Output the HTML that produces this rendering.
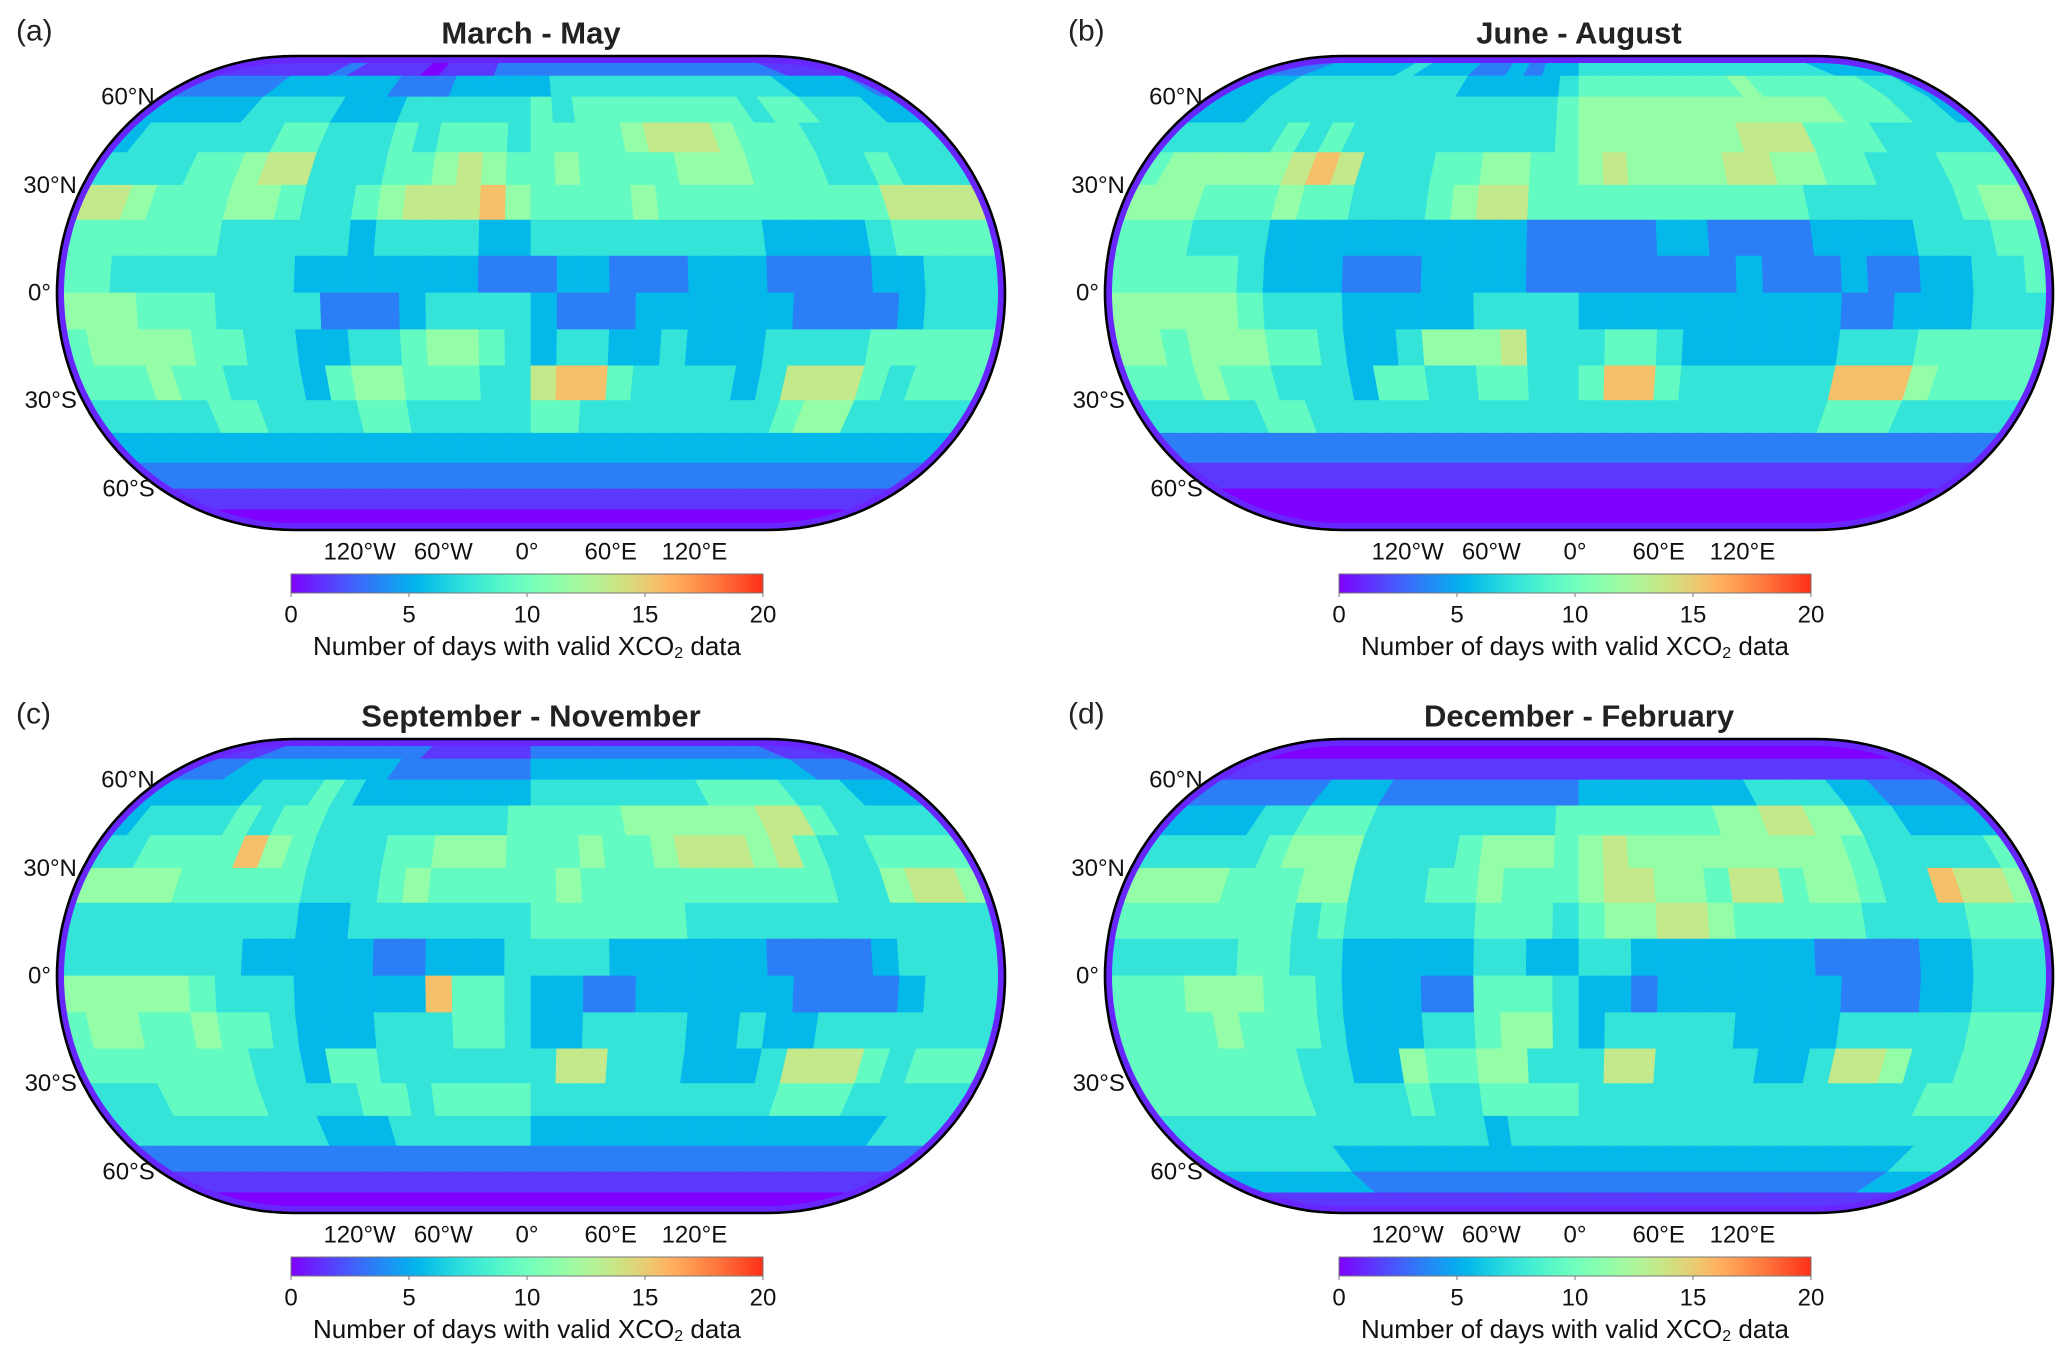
<!DOCTYPE html>
<html><head><meta charset="utf-8"><title>XCO2 valid days seasonal maps</title>
<style>
html,body{margin:0;padding:0;background:#fff;}
svg{display:block;font-family:"Liberation Sans",Arial,sans-serif;}
</style></head>
<body>
<svg id="fig" width="2067" height="1360" viewBox="0 0 2067 1360" xmlns="http://www.w3.org/2000/svg"></svg>
<script>
// ---- data: rows lat 90N..90S in 10° bands, columns lon -180..180 in 10° steps; each char = level (days ≈ 2*level-0.5)
const seasonTitles = ["March - May","June - August","September - November","December - February"];
const panelLetters = ["(a)","(b)","(c)","(d)"];
const gridMAM = [
"000000000000000000000000000000000000",
"111111121111011122222222222222221111",
"222223333332223333344444444444433332",
"333334444333444444545555555545544433",
"344444455444545554555567776555444444",
"444455677444556765565555666555445444",
"776555665445677786555565555555557777",
"555555444443444433444444444333345555",
"554444444333333322233222333222233444",
"666555444422234444322233333322223444",
"566665544334456654344334333444455555",
"555655444356655544788544443477754555",
"444445544445544444554444444456644444",
"333333333333333333333333333333333333",
"222222222222222222222222222222222222",
"111111111111111111111111111111111111",
"000000000000000000000000000000000000",
"000000000000000000000000000000000000"];
const gridJJA = [
"000000000000000000000000000000000000",
"222333334333223233444444444444443332",
"333444444444333334555555556555555443",
"333444444444444445666666666666555443",
"444445454444444445666666677755544444",
"566666787444556655676666776655444555",
"666555655444567755555555555444444566",
"555444333333333322222332222333344455",
"555554333222333322222222322232233445",
"666665444333334444333333333322333444",
"665666554334666744455433333344455555",
"555655444355445544588544444488865555",
"444445544444444444444444444455544444",
"222222222222222222222222222222222222",
"111111111111111111111111111111111111",
"000000000000000000000000000000000000",
"000000000000000000000000000000000000",
"000000000000000000000000000000000000"];
const gridSON = [
"000000000000000000000000000000000000",
"111222222222111111222222222222221111",
"222333333332222222333333333333332222",
"333334445433333333444444445555444333",
"344445455444444445555566666677544444",
"445555865444556665556556777675445555",
"666655555444565555565555555555446776",
"444444444334444444555555444444444444",
"444444433333223334444333333222234444",
"666665444333338554332233333322223444",
"566556554333444554334444334334444444",
"555555544355444444477444333477754555",
"444555544445545555444444444455544444",
"444444444333444444333333333333333444",
"222222222222222222222222222222222222",
"111111111111111111111111111111111111",
"000000000000000000000000000000000000",
"000000000000000000000000000000000000"];
const gridDJF = [
"000000000000000000000000000000000000",
"000000000000000000000000000000000000",
"111111111111111111111111111111111111",
"222222333222222222333333334444332222",
"333344555444444445555555667766443333",
"444445666444456665676666666665444445",
"666655566444556555677665775665448776",
"555555545444445554566776555554444555",
"444445544333334433443333333222233444",
"555666554333225554332333333322233444",
"555565554333445664344444333344444555",
"555555544336556644477444433477644555",
"555555544445445555444444444444445555",
"444444444444443444444444444444444444",
"444444433333333333333333333333333444",
"333333322222222222222222222222222333",
"111111111111111111111111111111111111",
"000000000000000000000000000000000000"];
const latLabels = ["60°N","30°N","0°","30°S","60°S"];
const latValues = [60,30,0,-30,-60];
const lonLabels = ["120°W","60°W","0°","60°E","120°E"];
const lonValues = [-120,-60,0,60,120];
const cbTicks = [0,5,10,15,20];

const grids=[gridMAM,gridJJA,gridSON,gridDJF];
const NS="http://www.w3.org/2000/svg";
const svg=document.getElementById('fig');
function mk(tag,attrs,parent){const e=document.createElementNS(NS,tag);for(const k in attrs)e.setAttribute(k,attrs[k]);(parent||svg).appendChild(e);return e;}

function cmap(v){ // rainbow
  let x=Math.max(0,Math.min(1,v/20))*0.94;
  let r=Math.min(1,Math.abs(2*x-0.5)), g=Math.sin(Math.PI*x), b=Math.cos(Math.PI*x/2);
  const h=c=>Math.round(Math.max(0,Math.min(1,c))*255);
  return `rgb(${h(r)},${h(g)},${h(b)})`;
}
function levelToDays(c){const l=parseInt(c,36);return Math.max(0,l*2-0.5);}
function theta(lat){
  const phi=lat*Math.PI/180, rhs=(2+Math.PI/2)*Math.sin(phi);
  let t=phi/2;
  for(let i=0;i<30;i++){
    const f=t+Math.sin(t)*Math.cos(t)+2*Math.sin(t)-rhs;
    const d=1+Math.cos(2*t)+2*Math.cos(t);
    if(Math.abs(d)<1e-9)break; t-=f/d;
  }
  return t;
}
const W=474,H=237;
function proj(P,lon,lat){
  const t=theta(lat);
  return [P.cx+W*(lon/180)*(1+Math.cos(t))/2, P.cy-H*Math.sin(t)];
}
const panels=[{cx:531,cy:293,dx:0,dy:0},{cx:1579,cy:293,dx:1048,dy:0},{cx:531,cy:976,dx:0,dy:683},{cx:1579,cy:976,dx:1048,dy:683}];

const defs=mk('defs',{});
const grad=mk('linearGradient',{id:'cbgrad',x1:'0',x2:'1',y1:'0',y2:'0'},defs);
for(let i=0;i<=40;i++){mk('stop',{offset:(i/40).toFixed(3),'stop-color':cmap(i/2)},grad);}

panels.forEach((P,pi)=>{
  const g=mk('g',{});
  
  
  let d='';
  for(let lat=-90;lat<=90;lat+=2){const [x,y]=proj(P,180,lat);d+=(d?'L':'M')+x.toFixed(1)+' '+y.toFixed(1);}
  for(let lat=90;lat>=-90;lat-=2){const [x,y]=proj(P,-180,lat);d+='L'+x.toFixed(1)+' '+y.toFixed(1);}
  d+='Z';
  const cp=mk('clipPath',{id:'clip'+pi},defs); mk('path',{d:d},cp);
  const cells=mk('g',{'clip-path':`url(#clip${pi})`},g);
  
  
  const grid=grids[pi];
  grid.forEach((row,ri)=>{
    const latT=90-ri*10, latB=latT-10;
    for(let ci=0;ci<row.length;ci++){
      const v=levelToDays(row[ci]);
      const l0=-180+ci*10,l1=l0+10;
      const a=proj(P,l0,latT),b=proj(P,l1,latT),c=proj(P,l1,latB),e=proj(P,l0,latB);
      const col=cmap(v);
      const poly=mk('polygon',{points:[a,b,c,e].map(p=>p[0].toFixed(1)+','+p[1].toFixed(1)).join(' '),fill:col,stroke:col,'stroke-width':'0.8'},cells);
      
      
    }
  });
  mk('path',{d:d,fill:'none',stroke:cmap(1),'stroke-width':'14','clip-path':`url(#clip${pi})`},g);
  const ol=mk('path',{d:d,fill:'none',stroke:'#000','stroke-width':'2.6'},g);
  
  
  const tt=mk('text',{x:P.cx,y:33+P.dy,'font-size':'31','font-weight':'bold','text-anchor':'middle','dominant-baseline':'central',fill:'#222'},g);
  tt.textContent=seasonTitles[pi];
  
  
  const lt=mk('text',{x:(pi%2?1068:16),y:31+P.dy,'font-size':'30','dominant-baseline':'central',fill:'#222'},g);
  lt.textContent=panelLetters[pi];
  
  
  latValues.forEach((la,i)=>{
    const [x,y]=proj(P,-180,la);
    const t=mk('text',{x:x-6,y:y,'font-size':'24','text-anchor':'end','dominant-baseline':'central',fill:'#111'},g);
    t.textContent=latLabels[i];
    
    
  });
  lonValues.forEach((lo,i)=>{
    const x=P.cx-4+lo*1.395;
    const t=mk('text',{x:x,y:552+P.dy,'font-size':'24','text-anchor':'middle','dominant-baseline':'central',fill:'#111'},g);
    t.textContent=lonLabels[i];
    
    
  });
  const cbx=291+P.dx, cbw=472, cby=574+P.dy, cbh=19;
  const cb=mk('rect',{x:cbx,y:cby,width:cbw,height:cbh,fill:'url(#cbgrad)',stroke:'#777','stroke-width':'1'},g);
  
  
  cbTicks.forEach(v=>{
    const x=cbx+v/20*cbw;
    mk('line',{x1:x,x2:x,y1:cby+cbh,y2:cby+cbh+4,stroke:'#777','stroke-width':'1'},g);
    const t=mk('text',{x:x,y:615+P.dy,'font-size':'24','text-anchor':'middle','dominant-baseline':'central',fill:'#111'},g);
    t.textContent=String(v);
    
    
  });
  const cap=mk('text',{x:cbx+cbw/2,y:646+P.dy,'font-size':'26','text-anchor':'middle','dominant-baseline':'central',fill:'#111'},g);
  
  
  cap.appendChild(document.createTextNode('Number of days with valid XCO'));
  const sub=mk('tspan',{'font-size':'16',dy:'7'},cap); sub.textContent='2';
  const rest=mk('tspan',{dy:'-7'},cap); rest.textContent=' data';
});
</script>
</body></html>
